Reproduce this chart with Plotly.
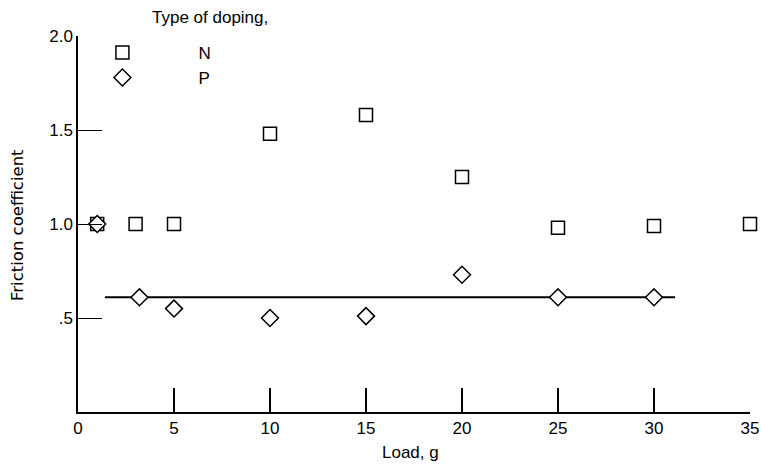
import plotly.graph_objects as go

# Data
n_load = [1.0, 3.0, 5.0, 10.0, 15.0, 20.0, 25.0, 30.0, 35.0]
n_friction = [1.0, 1.0, 1.0, 1.48, 1.58, 1.25, 0.98, 0.99, 1.0]
p_load = [1.0, 3.2, 5.0, 10.0, 15.0, 20.0, 25.0, 30.0]
p_friction = [1.0, 0.61, 0.55, 0.50, 0.51, 0.73, 0.61, 0.61]
fit_load = [1.4, 31.1]
fit_friction = [0.61, 0.61]

x_ticks = [0, 5, 10, 15, 20, 25, 30, 35]
x_tick_text = ["0", "5", "10", "15", "20", "25", "30", "35"]
y_ticks = [0.5, 1.0, 1.5, 2.0]
y_tick_text = [".5", "1.0", "1.5", "2.0"]

main_font = "Liberation Sans, Arial, sans-serif"
title_font = "DejaVu Sans, sans-serif"

# plot area (page pixels): x 78..750, y 36..412
PL, PR, PT, PB = 78, 750, 36, 412
PW, PH = PR - PL, PB - PT


def px(xp):
    return (xp - PL) / PW


def py(yp):
    return (PB - yp) / PH


fig = go.Figure()
fig.add_trace(go.Scatter(
    x=fit_load, y=fit_friction, mode="lines",
    line=dict(color="black", width=2), showlegend=False, hoverinfo="skip"))
fig.add_trace(go.Scatter(
    x=n_load, y=n_friction, mode="markers", name="N", legendgroup="n",
    marker=dict(symbol="square", size=13, color="white",
                line=dict(color="black", width=1.5)),
    cliponaxis=False))
fig.add_trace(go.Scatter(
    x=p_load, y=p_friction, mode="markers", name="P", legendgroup="p",
    marker=dict(symbol="diamond", size=13, color="white",
                line=dict(color="black", width=1.5)),
    cliponaxis=False))

fig.update_layout(
    width=761, height=467,
    margin=dict(l=78, r=11, t=36, b=55, autoexpand=False),
    paper_bgcolor="white", plot_bgcolor="white",
    font=dict(family=main_font, size=17, color="black"),
    showlegend=True,
    legend=dict(x=-0.047, y=1.003, xanchor="left", yanchor="top",
                bgcolor="rgba(0,0,0,0)", itemwidth=142, tracegroupgap=0,
                font=dict(family=main_font, size=17, color="black")),
    xaxis=dict(range=[0, 35], tickvals=x_ticks, ticktext=x_tick_text,
               ticks="inside", ticklen=24, tickwidth=1.5, tickcolor="black",
               showline=True, linecolor="black", linewidth=1.5,
               showgrid=False, zeroline=False, automargin=False,
               tickfont=dict(family=main_font, size=17)),
    yaxis=dict(range=[0, 2.0], tickvals=y_ticks, ticktext=y_tick_text,
               ticks="inside", ticklen=24, tickwidth=1, tickcolor="black",
               showline=True, linecolor="black", linewidth=1.5,
               showgrid=False, zeroline=False, automargin=False,
               tickfont=dict(family=main_font, size=17)),
    annotations=[
        dict(text="Type of doping,", xref="paper", yref="paper",
             x=px(150), y=py(17), xanchor="left", yanchor="middle",
             showarrow=False, font=dict(family=main_font, size=17)),
        dict(text="Load, g", xref="paper", yref="paper",
             x=px(410), y=py(452), xanchor="center", yanchor="middle",
             showarrow=False, font=dict(family=main_font, size=17)),
        dict(text="Friction coefficient", xref="paper", yref="paper",
             x=px(17), y=py(225), xanchor="center", yanchor="middle",
             textangle=-90, showarrow=False, font=dict(family=title_font, size=16.5)),
    ],
)

fig.write_html("out.html", config={"displayModeBar": False},
               post_script="document.body.style.margin='0';")
